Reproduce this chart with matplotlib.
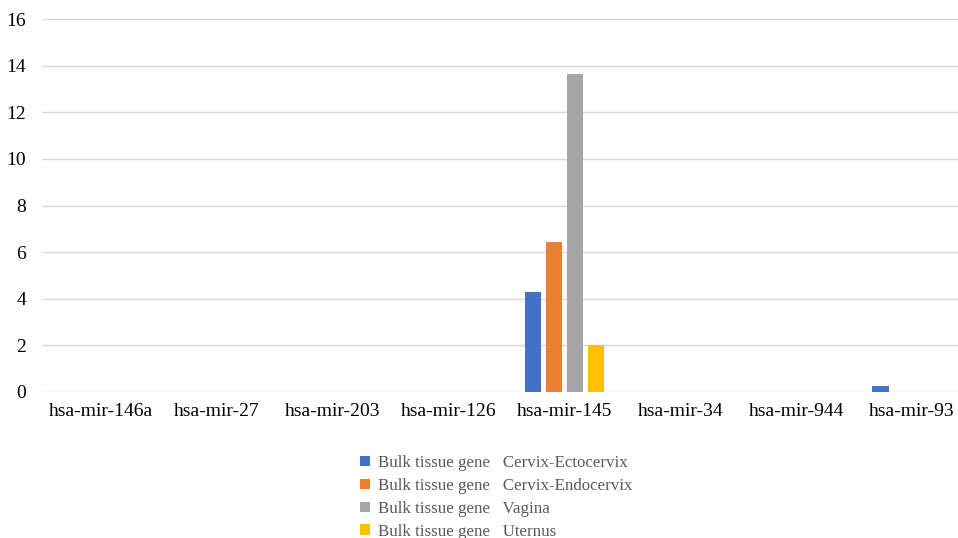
import matplotlib.pyplot as plt
import numpy as np

plt.rcParams['font.family'] = ['Liberation Serif', 'DejaVu Serif']

categories = ["hsa-mir-146a", "hsa-mir-27", "hsa-mir-203", "hsa-mir-126",
              "hsa-mir-145", "hsa-mir-34", "hsa-mir-944", "hsa-mir-93"]
ectocervix = [0, 0, 0, 0, 4.3, 0, 0, 0.25]
endocervix = [0, 0, 0, 0, 6.45, 0, 0, 0]
vagina = [0, 0, 0, 0, 13.65, 0, 0, 0]
uternus = [0, 0, 0, 0, 2.0, 0, 0, 0]

series = [
    ("Bulk tissue gene   Cervix-Ectocervix", ectocervix, "#4472C4"),
    ("Bulk tissue gene   Cervix-Endocervix", endocervix, "#ED7D31"),
    ("Bulk tissue gene   Vagina", vagina, "#A5A5A5"),
    ("Bulk tissue gene   Uternus", uternus, "#FFC000"),
]

fig = plt.figure(figsize=(9.58, 5.38), dpi=100)
ax = fig.add_axes([43 / 958, 1 - 392 / 538, 927 / 958, 373 / 538])

x = np.arange(len(categories))
step = 0.181
width = 0.14
for i, (label, vals, color) in enumerate(series):
    ax.bar(x + (i - 1.5) * step, vals, width, color=color, label=label, zorder=3)

ax.set_xlim(-0.5, len(categories) - 0.5)
ax.set_ylim(0, 16)
ax.set_yticks(range(0, 17, 2))
ax.set_xticks(x)
ax.set_xticklabels(categories, fontsize=14)
ax.tick_params(axis='y', labelsize=14, length=0, pad=12)
ax.tick_params(axis='x', length=0, pad=8)
ax.grid(axis='y', color='#D9D9D9', linewidth=1, zorder=0)
for s in ax.spines.values():
    s.set_visible(False)

handles, labels = ax.get_legend_handles_labels()
fig.legend(handles, labels, loc='upper left', bbox_to_anchor=(345 / 958, 1 - 440 / 538),
           frameon=False, fontsize=12.2, handlelength=0.55, handleheight=0.55,
           handletextpad=0.5, labelspacing=0.4, labelcolor='#595959')

fig.savefig("out.png", dpi=100)
